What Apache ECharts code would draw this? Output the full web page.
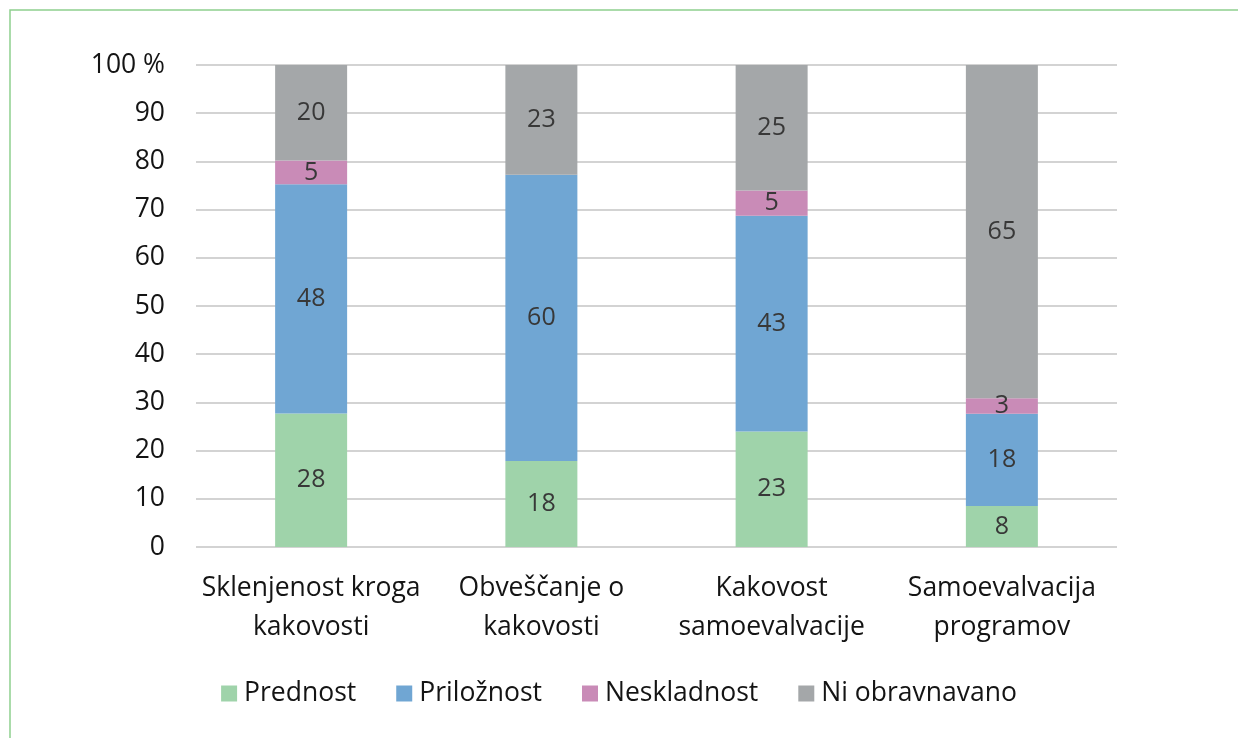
<!DOCTYPE html>
<html>
<head>
<meta charset="utf-8">
<script src="https://cdn.jsdelivr.net/npm/echarts@6/dist/echarts.min.js"></script>
<style>
  html, body { margin: 0; padding: 0; background: #fff; }
  #chart { width: 1238px; height: 738px; }
</style>
</head>
<body>
<div id="chart"></div>
<script>
// Categories (two-line labels)
const categories = [
  'Sklenjenost kroga\nkakovosti',
  'Obveščanje o\nkakovosti',
  'Kakovost\nsamoevalvacije',
  'Samoevalvacija\nprogramov'
];
// Counts per category for each assessment
const prednost      = [28, 18, 23, 8];
const priloznost    = [48, 60, 43, 18];
const neskladnost   = [5, 0, 5, 3];
const niObravnavano = [20, 23, 25, 65];

const yTicks = [0, 10, 20, 30, 40, 50, 60, 70, 80, 90, 100];

const seriesDefs = [
  { name: 'Prednost', data: prednost, color: '#9fd3aa' },
  { name: 'Priložnost', data: priloznost, color: '#70a6d3' },
  { name: 'Neskladnost', data: neskladnost, color: '#c98bb7' },
  { name: 'Ni obravnavano', data: niObravnavano, color: '#a4a7a9' }
];

// Each column is shown as a share of its own total (100 % stacked)
const totals = categories.map((_, i) =>
  seriesDefs.reduce((s, d) => s + d.data[i], 0));

const FONT = 'Open Sans';
const TEXT = '#141414';

const chart = echarts.init(document.getElementById('chart'));
chart.setOption({
  animation: false,
  textStyle: { fontFamily: FONT },
  grid: { left: 196, right: 121, top: 65, bottom: 191, containLabel: false },
  graphic: [{
    type: 'polyline',
    shape: { points: [[10, 738], [10, 10], [1238, 10]] },
    style: { stroke: '#8fcf8f', lineWidth: 1.5, fill: null },
    silent: true
  }],
  legend: {
    top: 675,
    left: 'center',
    itemWidth: 16,
    itemHeight: 16,
    itemGap: 40,
    icon: 'rect',
    textStyle: { fontFamily: FONT, fontSize: 26.5, color: TEXT, padding: [0, 0, 0, 2] },
    data: seriesDefs.map(d => d.name)
  },
  xAxis: {
    type: 'category',
    data: categories,
    axisLine: { show: false },
    axisTick: { show: false },
    axisLabel: {
      interval: 0,
      fontFamily: FONT, fontSize: 26.5, color: TEXT,
      lineHeight: 39, margin: 22
    }
  },
  yAxis: {
    type: 'value',
    min: 0, max: 100, interval: 10,
    axisLine: { show: false },
    axisTick: { show: false },
    splitLine: { lineStyle: { color: '#d3d3d3', width: 2 } },
    axisLabel: {
      fontFamily: FONT, fontSize: 26.5, color: TEXT, margin: 31,
      formatter: v => (yTicks.includes(v) ? (v === 100 ? '100 %' : String(v)) : '')
    }
  },
  series: seriesDefs.map(d => ({
    name: d.name,
    type: 'bar',
    stack: 'total',
    barWidth: 72,
    itemStyle: { color: d.color },
    data: d.data.map((v, i) => ({ value: v / totals[i] * 100, raw: v })),
    label: {
      show: true,
      position: 'inside',
      fontFamily: FONT,
      fontSize: 25,
      color: '#383838',
      formatter: p => (p.data.raw > 0 ? String(p.data.raw) : '')
    }
  }))
});
</script>
</body>
</html>
